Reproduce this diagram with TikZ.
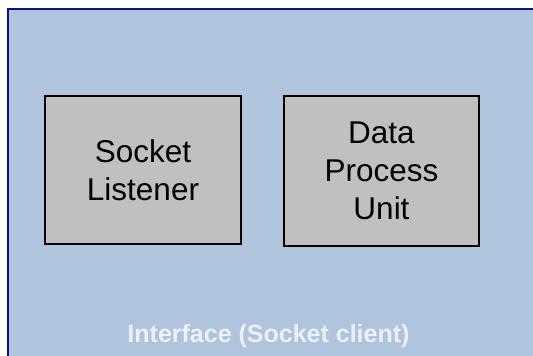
\documentclass[tikz,border=0pt]{standalone}
\usepackage{fontspec}
\setmainfont{Liberation Sans}
\definecolor{panelblue}{RGB}{176,196,222}
\definecolor{panelline}{RGB}{16,16,128}
\definecolor{boxgrey}{RGB}{192,192,192}
\definecolor{labelwhite}{RGB}{236,241,248}
\tikzset{
  unitbox/.style={draw=black, line width=1.4pt, fill=boxgrey, align=center,
    font=\fontsize{31.5}{38}\selectfont, inner sep=0pt},
}
\begin{document}
\begin{tikzpicture}[x=1pt,y=1pt]
	\useasboundingbox (0,0) rectangle (533,356);
	\clip (0,0) rectangle (533,356);
	\draw[draw=panelline, line width=2pt, fill=panelblue] (8,347) rectangle (600,-40);
	\node[unitbox, minimum width=196pt, minimum height=148pt] (listener) at (143,186) {Socket\\Listener};
	\node[unitbox, minimum width=195pt, minimum height=150pt] (dpu) at (381.5,185) {Data\\Process\\Unit};
	\node[anchor=base, text=labelwhite, font=\fontsize{25}{30}\selectfont\bfseries] (iface) at (268.5,13) {Interface (Socket client)};
\end{tikzpicture}
\end{document}
